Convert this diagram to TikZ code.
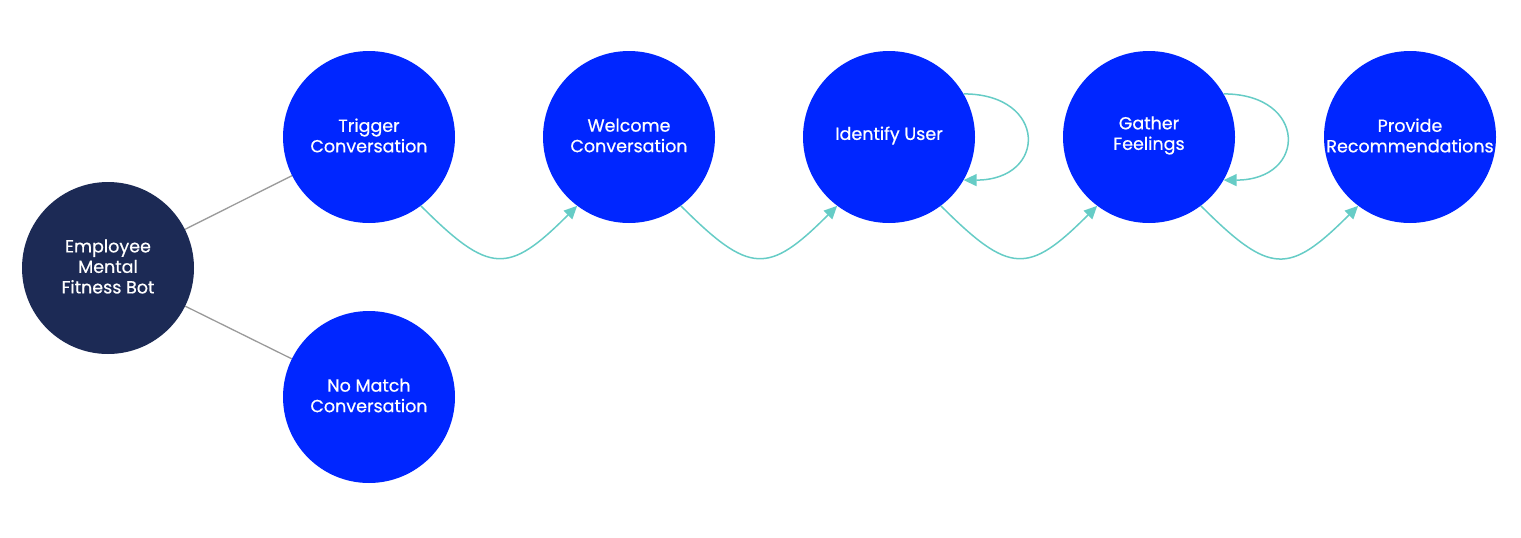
\documentclass[tikz,border=0pt]{standalone}
\usepackage{fontspec}
\setmainfont{Poppins}
\newfontfamily\lblfont{Poppins}[FakeBold=0.6]
\usetikzlibrary{arrows.meta}
\definecolor{navy}{HTML}{1C2A55}
\definecolor{vblue}{HTML}{0026FF}
\definecolor{teal2}{HTML}{66CCC6}
\definecolor{gline}{HTML}{9A9A9A}
\tikzset{
  state/.style={circle, fill=vblue, minimum size=172pt, inner sep=0pt},
  root/.style={state, fill=navy},
  txt/.style={text=white, align=center, yshift=1.5pt, font=\lblfont\fontsize{17.5}{20.5}\selectfont},
  flow/.style={draw=teal2, line width=1.5pt, -{Triangle[length=13pt,width=12pt]}},
  link/.style={draw=gline, line width=1.3pt},
}
\begin{document}
\begin{tikzpicture}[x=1pt,y=-1pt]
\useasboundingbox (0,0) rectangle (1521,538);
\node[root, label={[txt]center:Employee\\Mental\\Fitness Bot}] (emp) at (108,268) {};
\node[state, label={[txt]center:Trigger\\Conversation}] (trig) at (369,137) {};
\node[state, label={[txt]center:Welcome\\Conversation}] (wel) at (629,137) {};
\node[state, label={[txt]center:Identify User}] (idu) at (889,137) {};
\node[state, label={[txt]center:Gather\\Feelings}] (gat) at (1149,137) {};
\node[state, label={[txt]center:Provide\\Recommendations}] (pro) at (1410,137) {};
\node[state, label={[txt]center:No Match\\Conversation}] (nom) at (369,397) {};
\draw[link] (emp) -- (trig);
\draw[link] (emp) -- (nom);
\draw[flow] (trig.-53) to[out=-45,in=-135,looseness=1.6] (wel.-127);
\draw[flow] (wel.-53) to[out=-45,in=-135,looseness=1.6] (idu.-127);
\draw[flow] (idu.-53) to[out=-45,in=-135,looseness=1.6] (gat.-127);
\draw[flow] (gat.-53) to[out=-45,in=-135,looseness=1.6] (pro.-127);
\draw[flow] (idu.30) to[out=0,in=0,looseness=2.5] (idu.-30);
\draw[flow] (gat.30) to[out=0,in=0,looseness=2.5] (gat.-30);
\end{tikzpicture}
\end{document}
